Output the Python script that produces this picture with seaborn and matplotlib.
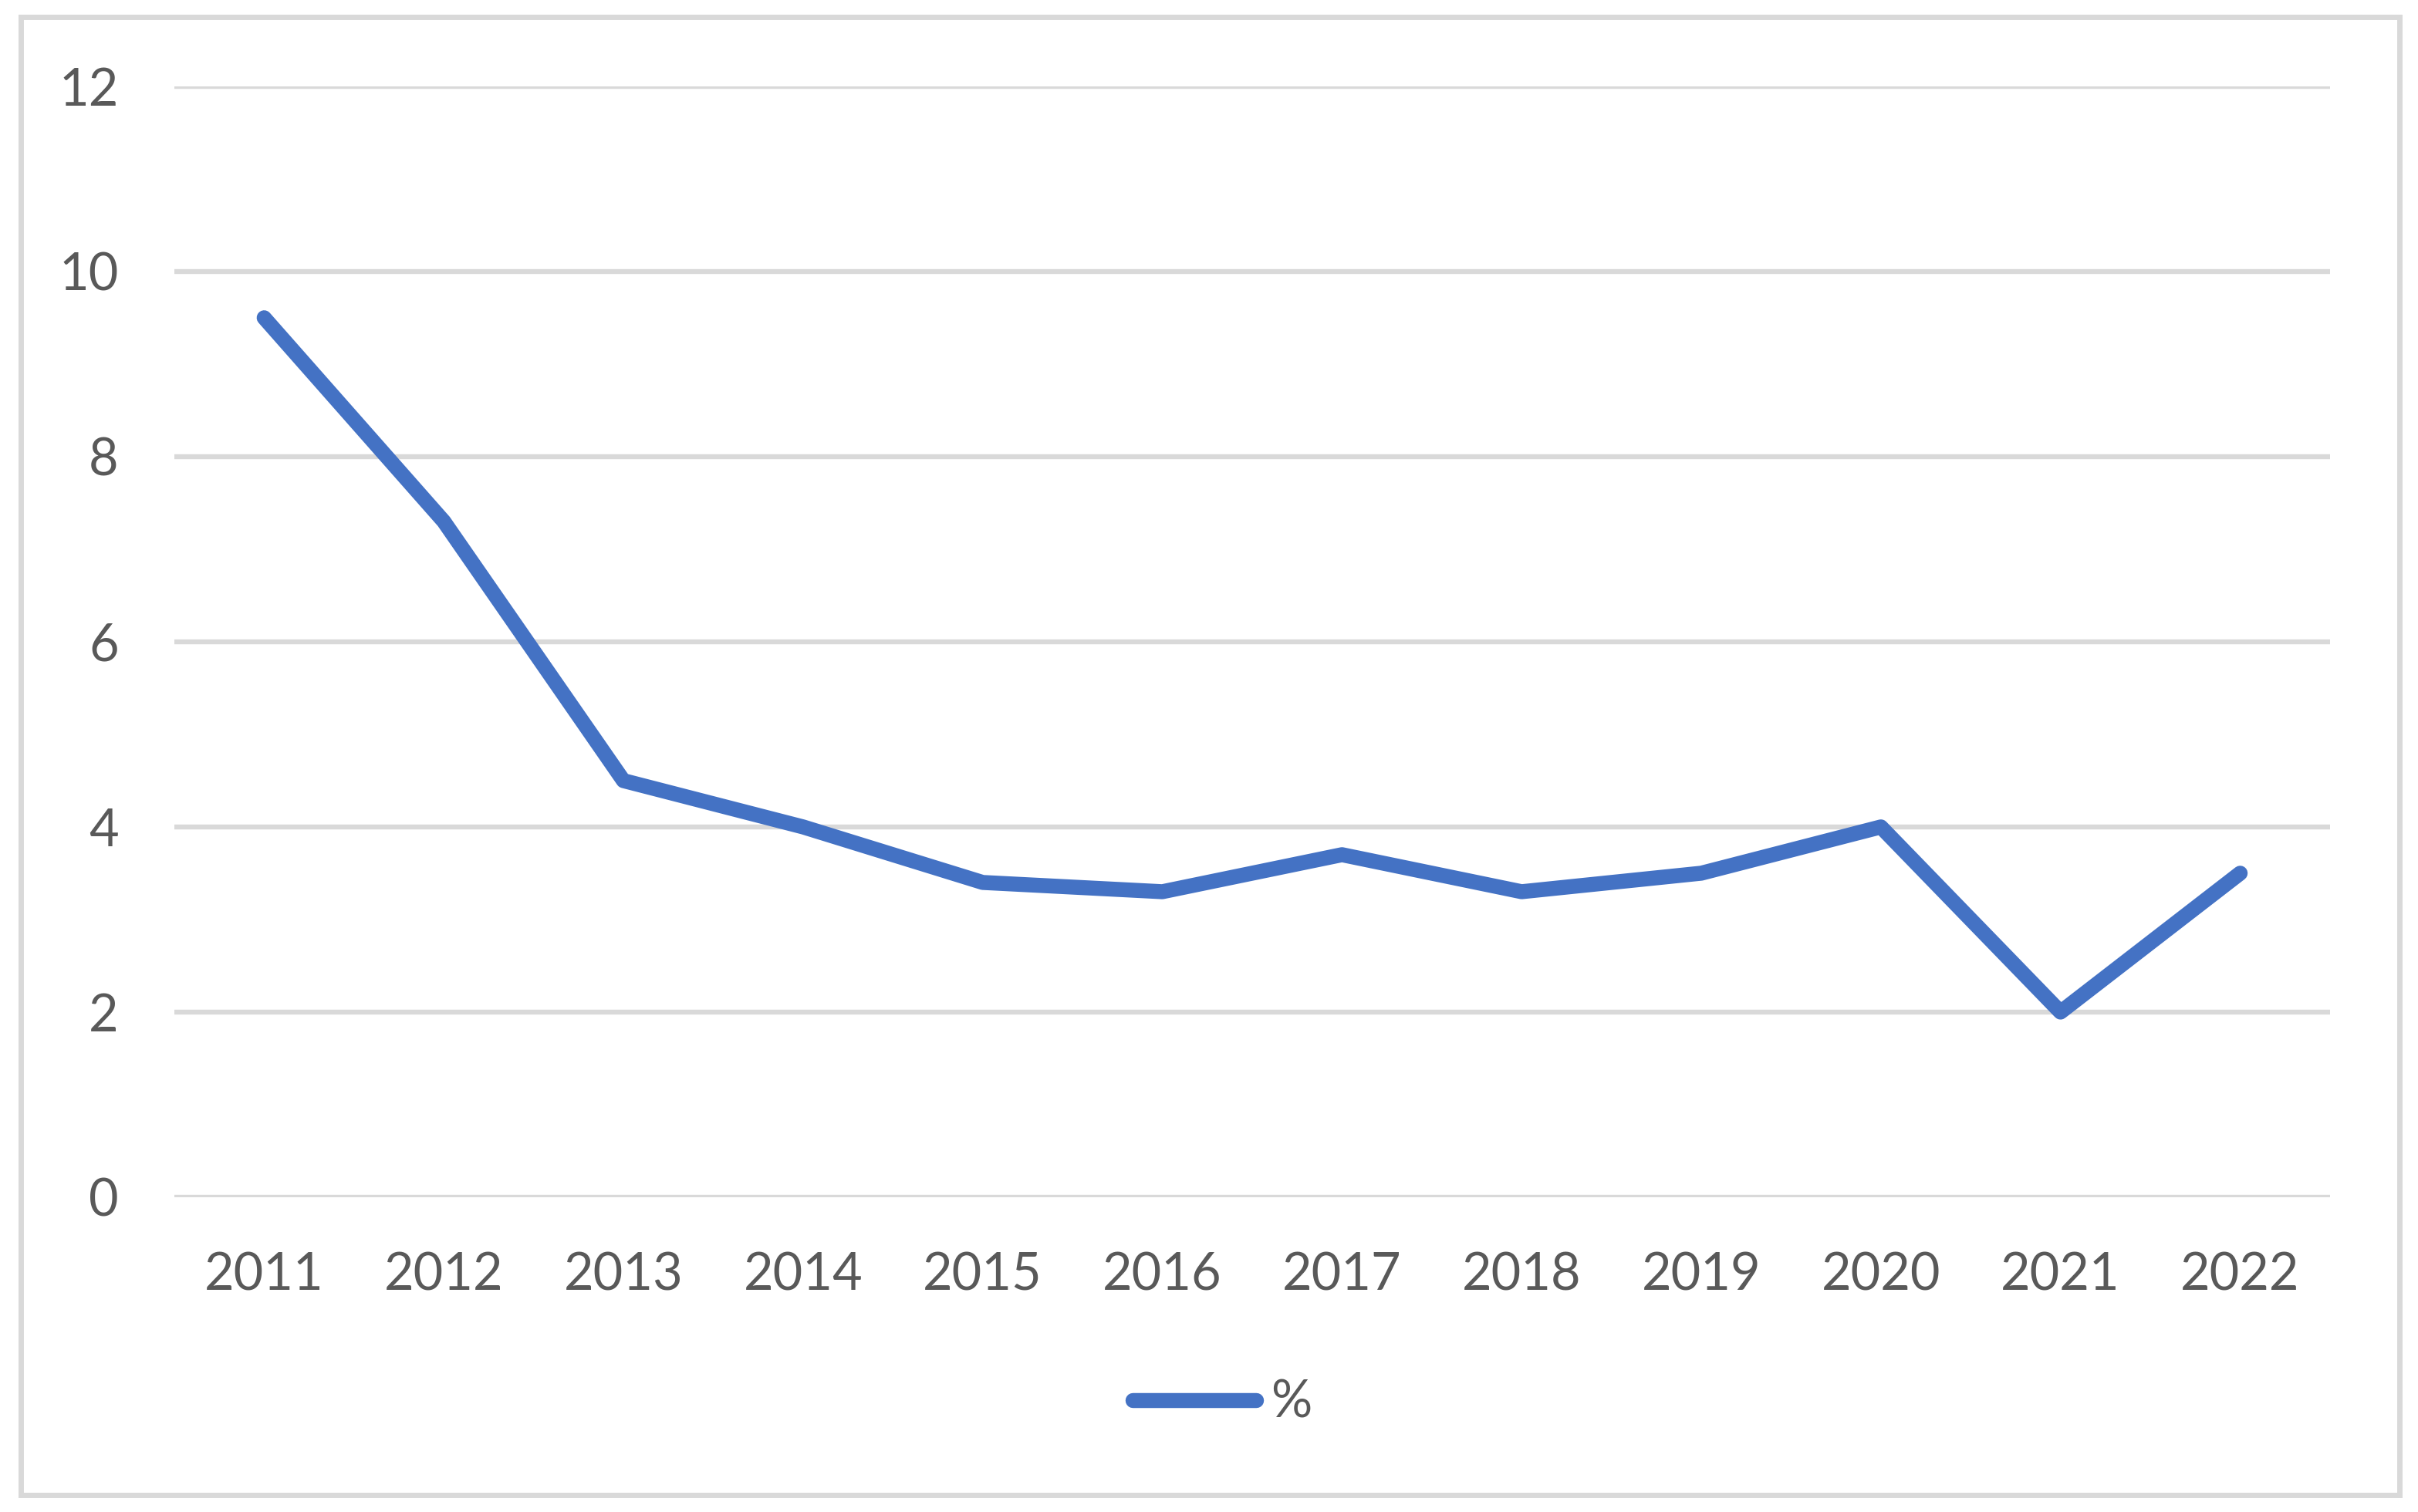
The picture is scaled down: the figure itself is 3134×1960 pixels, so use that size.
import pandas as pd
import matplotlib.pyplot as plt
import seaborn as sns
from matplotlib.patches import Rectangle


# data
years = ["2011", "2012", "2013", "2014", "2015", "2016",
         "2017", "2018", "2019", "2020", "2021", "2022"]
pct = [9.5, 7.3, 4.5, 4.0, 3.4, 3.3, 3.7, 3.3, 3.5, 4.0, 2.0, 3.5]
series_name = "%"
y_ticks = [0, 2, 4, 6, 8, 10, 12]

df = pd.DataFrame({"year": years, "value": pct})

sns.set_style("white")
plt.rcParams["font.family"] = ["Lato", "DejaVu Sans"]

text_color = "#595959"
grid_color = "#D9D9D9"
line_color = "#4472C4"

fig = plt.figure(figsize=(15.67, 9.8), dpi=200)
ax = fig.add_axes([0.0721, 0.2082, 0.8915, 0.7347])

sns.lineplot(data=df, x="year", y="value", ax=ax, color=line_color,
             linewidth=7.0, label=series_name, sort=False,
             solid_capstyle="round", solid_joinstyle="round")

ax.set_xlim(-0.5, len(years) - 0.5)
ax.set_ylim(0, 12)
ax.set_yticks(y_ticks)
ax.set_yticklabels([str(t) for t in y_ticks])

# horizontal gridlines only, no spines
ax.yaxis.grid(True, color=grid_color, linewidth=2.3)
ax.xaxis.grid(False)
ax.set_axisbelow(True)
for s in ax.spines.values():
    s.set_visible(False)
ax.set_xlabel("")
ax.set_ylabel("")
ax.tick_params(axis="y", length=0, pad=26, labelsize=24, labelcolor=text_color)
ax.tick_params(axis="x", length=0, pad=25.5, labelsize=24, labelcolor=text_color)

# legend at the bottom centre
ax.legend(loc="center", bbox_to_anchor=(0.5055, 0.072),
          bbox_transform=fig.transFigure, frameon=False, fontsize=24,
          labelcolor=text_color, handlelength=2.4, handletextpad=0.3)

# light grey frame round the whole chart
fig.patches.append(Rectangle((27 / 3134, 1 - 1938 / 1960),
                             (3110 - 27) / 3134, (1938 - 22) / 1960,
                             transform=fig.transFigure, fill=False,
                             edgecolor=grid_color, linewidth=2.5))

fig.savefig("out.png", dpi=200, facecolor="white")
